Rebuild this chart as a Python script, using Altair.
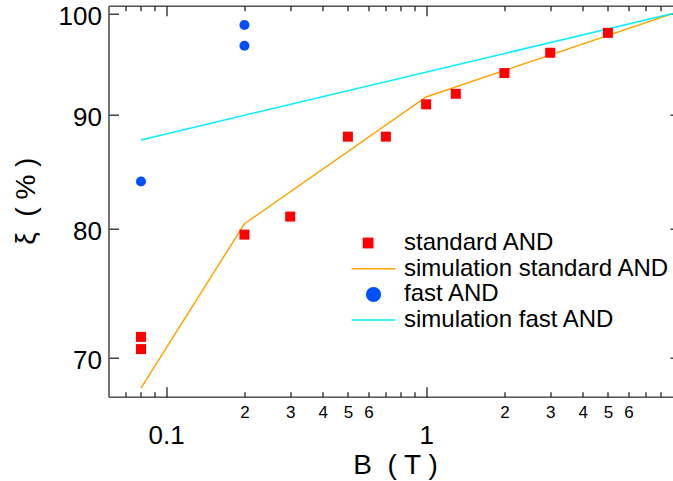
import json
import altair as alt
import pandas as pd

FONT = "Liberation Sans"

# ---- data ----
STD_B = [0.08, 0.08, 0.2, 0.3, 0.5, 0.7, 1.0, 1.3, 2.0, 3.0, 5.0]
STD_XI = [71.5, 70.6, 79.5, 81.0, 88.0, 88.0, 91.0, 92.0, 94.0, 96.0, 98.0]
FAST_B = [0.08, 0.2, 0.2]
FAST_XI = [84.0, 98.8, 96.7]
SIM_STD_B = [0.08, 0.2, 1.0, 8.9]
SIM_STD_XI = [67.8, 80.4, 91.7, 100.0]
SIM_FAST_B = [0.08, 8.9]
SIM_FAST_XI = [87.7, 100.0]

SERIES = ["standard AND", "simulation standard AND", "fast AND", "simulation fast AND"]
SERIES_COLORS = ["#ff0000", "#ffa500", "#0050ff", "#00f0ff"]
SERIES_SHAPES = [
    "M-1.8,-0.9H0V0.9H-1.8Z",
    "M-3.65,-0.125H3.65V0.125H-3.65Z",
    "M-1.25,0A1.25,1.25,0,1,0,1.25,0A1.25,1.25,0,1,0,-1.25,0Z",
    "M-3.65,-0.125H3.65V0.125H-3.65Z",
]

MAJOR_X_TICKS = [0.1, 1]
MAJOR_X_LABELS = ["0.1", "1"]
MINOR_X_TICKS = [0.07, 0.08, 0.09, 0.2, 0.3, 0.4, 0.5, 0.6, 0.7, 0.8, 0.9,
                 2, 3, 4, 5, 6, 7, 8]
MINOR_X_LABELS = ["", "", "", "2", "3", "4", "5", "6", "", "", "",
                  "2", "3", "4", "5", "6", "", ""]
Y_TICKS = [70, 80, 90, 100]
Y_LABELS = ["70", "80", "90", "100"]

X_DOMAIN = [0.06, 8.9]
Y_DOMAIN = [67.2, 100.8]


def label_expr(ticks, labels):
    return f"{json.dumps(labels)}[indexof({json.dumps(ticks)}, datum.value)]"


TICK_COLOR = "#222222"
FRAME_COLOR = "#555555"
common = dict(grid=False, tickColor=TICK_COLOR, tickWidth=1.3,
              labelFont=FONT, labelColor="black", labelOverlap=False,
              labelFlush=False, titleFont=FONT, titleColor="black",
              titleFontWeight="normal")
frame = dict(domain=True, domainColor=FRAME_COLOR, domainWidth=1.6,
             ticks=False, labels=False, title=None, grid=False)

ax_x_major = alt.Axis(orient="bottom", values=MAJOR_X_TICKS, domain=False,
                      labelExpr=label_expr(MAJOR_X_TICKS, MAJOR_X_LABELS),
                      offset=-10, tickSize=10, labelFontSize=26, labelPadding=26,
                      title="B\u00a0\u00a0( T )", titleFontSize=28,
                      titleX=286.5, titleY=64.5, titleAlign="center",
                      titleBaseline="top", **common)
ax_x_minor = alt.Axis(orient="bottom", values=MINOR_X_TICKS, domain=False,
                      labelExpr=label_expr(MINOR_X_TICKS, MINOR_X_LABELS),
                      offset=-5, tickSize=5, labelFontSize=17, labelPadding=8,
                      title=None, **common)
ax_x_top_major = alt.Axis(orient="top", values=MAJOR_X_TICKS, labels=False, domain=False,
                          offset=-10, tickSize=10, title=None, **common)
ax_x_top_minor = alt.Axis(orient="top", values=MINOR_X_TICKS, labels=False, domain=False,
                          offset=-5, tickSize=5, title=None, **common)
ax_y_left = alt.Axis(orient="left", values=Y_TICKS, domain=False,
                     labelExpr=label_expr(Y_TICKS, Y_LABELS),
                     offset=-10, tickSize=10, labelFontSize=26, labelPadding=7,
                     labelOffset=3, title="\u03be\u00a0\u00a0( % )", titleFontSize=28,
                     titleX=-92.5, titleY=195, titleAngle=270,
                     titleAlign="center", titleBaseline="middle", **common)
ax_y_right = alt.Axis(orient="right", values=Y_TICKS, labels=False, domain=False,
                      offset=-3, tickSize=3, title=None, **common)
ax_x_bottom_frame = alt.Axis(orient="bottom", offset=0, **frame)
ax_x_top_frame = alt.Axis(orient="top", offset=0, **frame)
ax_y_left_frame = alt.Axis(orient="left", offset=0, **frame)

x_scale = alt.Scale(type="log", domain=X_DOMAIN, nice=False)
y_scale = alt.Scale(type="log", domain=Y_DOMAIN, nice=False)

sim_std = pd.DataFrame({"B": SIM_STD_B, "xi": SIM_STD_XI})
sim_fast = pd.DataFrame({"B": SIM_FAST_B, "xi": SIM_FAST_XI})
std = pd.DataFrame({"B": STD_B, "xi": STD_XI})
fast = pd.DataFrame({"B": FAST_B, "xi": FAST_XI})

l1 = alt.Chart(sim_std).mark_line(color=SERIES_COLORS[1], strokeWidth=1.5).encode(
    x=alt.X("B:Q", scale=x_scale, axis=ax_x_major),
    y=alt.Y("xi:Q", scale=y_scale, axis=ax_y_left),
)
l2 = alt.Chart(sim_fast).mark_line(color=SERIES_COLORS[3], strokeWidth=1.5).encode(
    x=alt.X("B:Q", scale=x_scale, axis=ax_x_minor),
    y=alt.Y("xi:Q", scale=y_scale, axis=ax_y_right),
)
l3 = alt.Chart(std).mark_square(size=100, color=SERIES_COLORS[0], opacity=1).encode(
    x=alt.X("B:Q", scale=x_scale, axis=ax_x_top_major),
    y=alt.Y("xi:Q", scale=y_scale, axis=ax_y_left_frame),
)
l4 = alt.Chart(fast).mark_circle(size=100, color=SERIES_COLORS[2], opacity=1).encode(
    x=alt.X("B:Q", scale=x_scale, axis=ax_x_top_minor),
    y=alt.Y("xi:Q", scale=y_scale, axis=None),
)
l5 = alt.Chart(std).transform_filter("false").mark_point().encode(
    x=alt.X("B:Q", scale=x_scale, axis=ax_x_bottom_frame),
    y=alt.Y("xi:Q", scale=y_scale, axis=None),
)
l6 = alt.Chart(std).transform_filter("false").mark_point().encode(
    x=alt.X("B:Q", scale=x_scale, axis=ax_x_top_frame),
    y=alt.Y("xi:Q", scale=y_scale, axis=None),
)

legend = alt.Legend(
    orient="none", legendX=253, legendY=225.3, title=None,
    labelFont=FONT, labelFontSize=24, labelColor="black", labelLimit=0,
    symbolSize=144, symbolOffset=0, labelOffset=18.5, rowPadding=1.7, padding=0,
    symbolStrokeWidth=0,
)
leg = alt.Chart(pd.DataFrame({"series": SERIES})).transform_filter("false").mark_point(
    filled=True, opacity=1
).encode(
    color=alt.Color("series:N", scale=alt.Scale(domain=SERIES, range=SERIES_COLORS), legend=legend),
    shape=alt.Shape("series:N", scale=alt.Scale(domain=SERIES, range=SERIES_SHAPES), legend=legend),
)

chart = alt.layer(l5, l6, l1, l2, l3, l4, leg).resolve_axis(
    x="independent", y="independent"
).properties(
    width=564.5, height=391,
    padding={"left": 108.5, "top": 5.7, "right": 0, "bottom": 84.3},
    autosize=alt.AutoSizeParams(type="none"),
).configure_view(stroke=None).configure(font=FONT)

chart.save("out.html", embed_options={"renderer": "svg", "actions": False})
